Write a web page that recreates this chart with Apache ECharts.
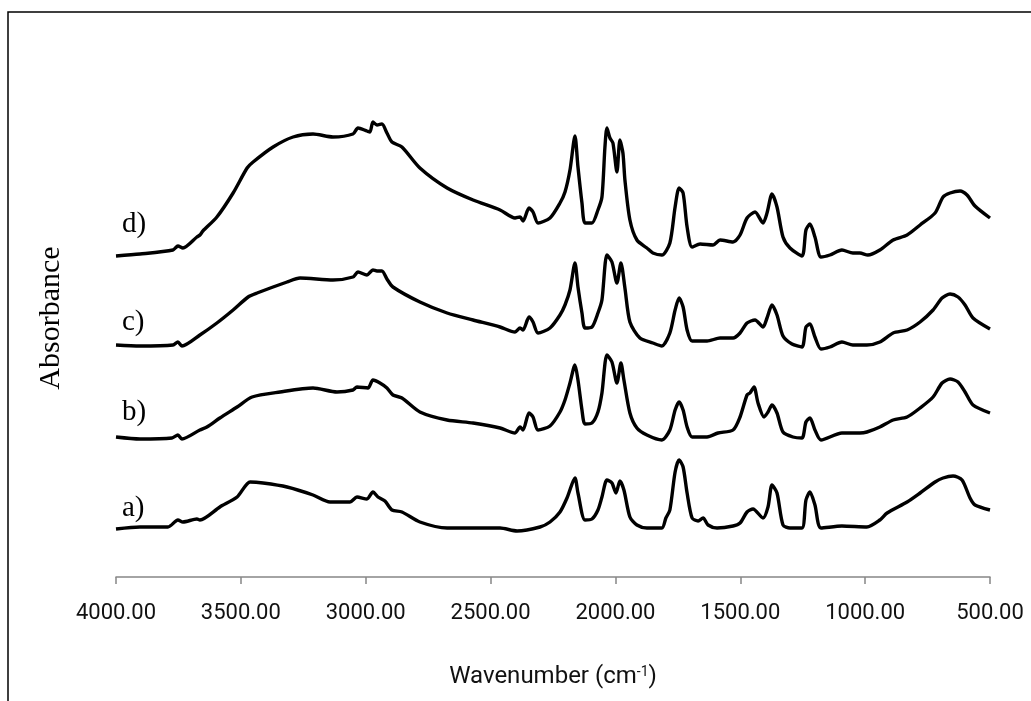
<!DOCTYPE html>
<html>
<head>
<meta charset="utf-8">
<script src="https://cdn.jsdelivr.net/npm/echarts@6/dist/echarts.min.js"></script>
<style>
html,body{margin:0;padding:0;background:#fff;}
#chart{width:1031px;height:701px;}
</style>
</head>
<body>
<div id="chart"></div>
<script>
// Wavenumber (cm-1) sample positions and absorbance (offset, arbitrary units) per spectrum
const wnA = [4000,3904,3792,3752,3732,3676,3664,3584,3515,3463,3411,3315,3211,3143,3063,3035,2995,2971,2951,2923,2895,2855,2783,2674,2462,2394,2302,2262,2222,2194,2162,2150,2122,2094,2070,2054,2034,2014,1998,1982,1966,1942,1914,1874,1814,1798,1782,1761,1745,1729,1713,1693,1669,1649,1629,1593,1529,1501,1473,1449,1409,1389,1373,1353,1329,1301,1253,1237,1221,1201,1177,1093,993,941,912,832,780,720,688,648,612,580,560,500];
const absA = [0.48,0.50,0.50,0.57,0.55,0.58,0.57,0.70,0.80,0.95,0.94,0.90,0.82,0.75,0.75,0.80,0.78,0.85,0.80,0.76,0.67,0.65,0.55,0.49,0.49,0.46,0.50,0.55,0.65,0.79,0.99,0.84,0.57,0.58,0.67,0.80,0.97,0.94,0.84,0.96,0.87,0.60,0.52,0.49,0.49,0.59,0.67,1.05,1.17,1.10,0.84,0.59,0.56,0.59,0.52,0.49,0.51,0.54,0.65,0.68,0.59,0.70,0.92,0.84,0.52,0.49,0.49,0.77,0.85,0.72,0.49,0.51,0.50,0.57,0.64,0.75,0.84,0.95,0.99,1.01,0.97,0.79,0.72,0.67];

const wnB = [4000,3904,3776,3752,3736,3664,3636,3584,3515,3455,3343,3211,3115,3051,3035,2991,2971,2943,2915,2891,2855,2783,2674,2570,2462,2402,2382,2370,2346,2330,2310,2262,2222,2202,2182,2162,2150,2134,2122,2094,2070,2054,2034,2014,1994,1978,1966,1942,1914,1874,1814,1782,1761,1745,1729,1713,1693,1633,1589,1529,1501,1473,1461,1445,1429,1405,1389,1373,1353,1329,1289,1253,1237,1221,1201,1177,1093,1021,993,941,888,832,780,728,692,660,628,600,568,500];
const absB = [1.40,1.38,1.39,1.42,1.38,1.47,1.50,1.59,1.70,1.80,1.85,1.89,1.85,1.87,1.90,1.89,1.97,1.94,1.89,1.82,1.79,1.65,1.57,1.54,1.49,1.44,1.50,1.47,1.64,1.60,1.47,1.51,1.65,1.77,1.94,2.12,1.97,1.67,1.53,1.54,1.65,1.84,2.22,2.15,1.94,2.14,1.97,1.64,1.49,1.42,1.37,1.47,1.67,1.75,1.67,1.50,1.40,1.40,1.44,1.47,1.60,1.82,1.84,1.90,1.74,1.60,1.65,1.72,1.64,1.45,1.40,1.39,1.55,1.59,1.47,1.37,1.44,1.44,1.45,1.50,1.57,1.60,1.69,1.80,1.94,1.98,1.95,1.85,1.72,1.64];

const wnC = [4000,3904,3772,3752,3736,3664,3596,3531,3471,3435,3315,3263,3131,3051,3031,2995,2971,2955,2935,2915,2891,2783,2674,2570,2462,2402,2382,2370,2346,2330,2310,2262,2222,2202,2182,2162,2150,2134,2122,2094,2070,2054,2034,2014,1994,1978,1962,1942,1902,1850,1814,1782,1761,1745,1729,1713,1693,1633,1581,1529,1501,1473,1441,1409,1393,1373,1353,1329,1293,1253,1237,1221,1201,1177,1141,1093,1049,993,941,888,832,780,728,692,660,628,600,568,500];
const absC = [2.32,2.31,2.32,2.35,2.31,2.42,2.54,2.67,2.80,2.84,2.95,2.99,2.97,3.00,3.05,3.02,3.07,3.06,3.06,2.98,2.90,2.75,2.64,2.57,2.50,2.45,2.49,2.47,2.60,2.55,2.44,2.49,2.62,2.72,2.87,3.14,2.90,2.64,2.49,2.50,2.64,2.77,3.22,3.15,2.94,3.14,2.89,2.55,2.39,2.34,2.31,2.44,2.67,2.79,2.70,2.47,2.36,2.36,2.39,2.39,2.44,2.54,2.57,2.50,2.59,2.72,2.62,2.41,2.33,2.30,2.50,2.53,2.40,2.28,2.30,2.35,2.32,2.32,2.35,2.44,2.47,2.55,2.67,2.79,2.83,2.80,2.72,2.59,2.48];

const wnD = [4000,3904,3772,3752,3732,3676,3664,3652,3596,3531,3475,3451,3371,3291,3211,3131,3051,3031,2995,2983,2971,2955,2935,2915,2895,2855,2783,2674,2570,2462,2402,2382,2370,2346,2330,2310,2262,2222,2202,2182,2162,2150,2134,2122,2094,2070,2054,2042,2034,2022,2010,1994,1982,1970,1962,1942,1914,1874,1850,1814,1782,1761,1745,1729,1713,1693,1661,1609,1581,1529,1501,1473,1441,1409,1393,1373,1353,1329,1301,1253,1237,1221,1201,1177,1141,1093,1049,1021,989,941,888,832,780,720,688,660,620,592,560,500];
const absD = [3.21,3.23,3.27,3.31,3.29,3.40,3.42,3.46,3.60,3.84,4.09,4.15,4.30,4.40,4.43,4.40,4.43,4.49,4.46,4.45,4.55,4.52,4.53,4.44,4.35,4.30,4.09,3.89,3.77,3.67,3.59,3.60,3.56,3.69,3.65,3.54,3.59,3.74,3.85,4.07,4.41,4.10,3.74,3.54,3.54,3.67,3.80,4.30,4.49,4.39,4.34,4.05,4.37,4.24,3.97,3.57,3.37,3.29,3.24,3.22,3.34,3.70,3.89,3.84,3.50,3.30,3.33,3.32,3.37,3.35,3.42,3.59,3.65,3.54,3.64,3.83,3.70,3.40,3.29,3.21,3.47,3.53,3.40,3.20,3.22,3.27,3.24,3.24,3.22,3.27,3.37,3.42,3.52,3.64,3.80,3.84,3.86,3.82,3.71,3.59];

const seriesNames = ['a)', 'b)', 'c)', 'd)'];
const xTicks = [500, 1000, 1500, 2000, 2500, 3000, 3500, 4000];

function pairs(w, a) { return w.map((v, i) => [v, a[i]]); }
const allData = [pairs(wnA, absA), pairs(wnB, absB), pairs(wnC, absC), pairs(wnD, absD)];

const chart = echarts.init(document.getElementById('chart'));
const labelY = [510, 414, 324, 226];

chart.setOption({
  animation: false,
  backgroundColor: '#fff',
  grid: { left: 116, right: 41, top: 59, bottom: 124 },
  xAxis: {
    type: 'value', min: 500, max: 4000, interval: 500, inverse: true,
    axisLine: { show: true, lineStyle: { color: '#868686', width: 1.5 } },
    axisTick: { show: true, length: 7, lineStyle: { color: '#868686', width: 1.5 } },
    splitLine: { show: false },
    axisLabel: { margin: 25, color: '#111', fontFamily: 'Roboto', fontSize: 22,
      formatter: v => v.toFixed(2) },
    name: 'Wavenumber (cm{sup|-1})',
    nameLocation: 'middle', nameGap: 88,
    nameTextStyle: { color: '#111', fontFamily: 'Roboto', fontSize: 24,
      rich: { sup: { fontSize: 14, verticalAlign: 'top', padding: [0,0,10,0], fontFamily: 'Roboto', color: '#111' } } }
  },
  yAxis: {
    type: 'value', min: 0, max: 5.18,
    axisLine: { show: false }, axisTick: { show: false }, axisLabel: { show: false }, splitLine: { show: false },
    name: 'Absorbance', nameLocation: 'middle', nameGap: 50, nameRotate: 90,
    nameTextStyle: { color: '#000', fontFamily: 'Liberation Serif', fontSize: 30 }
  },
  graphic: [
    { type: 'rect', silent: true, shape: { x: 8, y: 12, width: 1200, height: 900 },
      style: { fill: 'none', stroke: '#000', lineWidth: 1.5 } }
  ].concat(seriesNames.map((n, i) => ({
    type: 'text', left: 122, top: labelY[i] - 16,
    style: { text: n, fill: '#000', font: '29px "Liberation Serif"' }
  }))),
  series: allData.map((d, i) => ({
    type: 'line', name: seriesNames[i], data: d, showSymbol: false, smooth: 0.25,
    lineStyle: { color: '#000', width: 3.4 }
  }))
});
</script>
</body>
</html>
